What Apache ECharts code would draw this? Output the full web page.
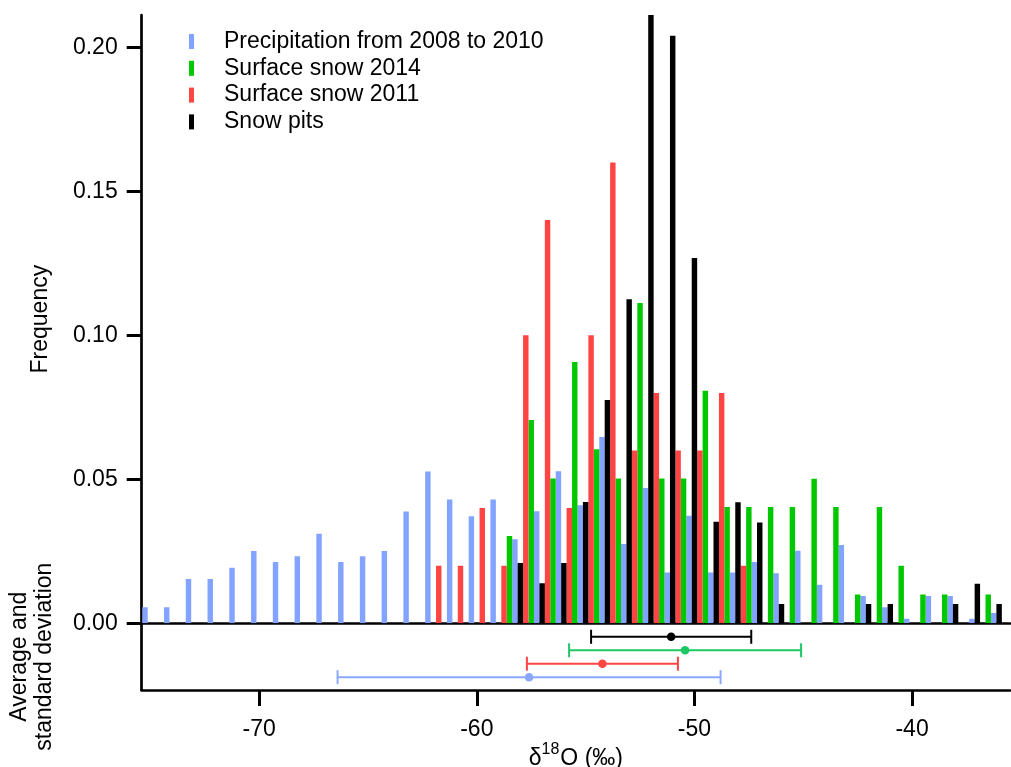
<!DOCTYPE html>
<html>
<head>
<meta charset="utf-8">
<script src="https://cdn.jsdelivr.net/npm/echarts@6/dist/echarts.min.js"></script>
<style>html,body{margin:0;padding:0;background:#fff}#c{width:1011px;height:767px}</style>
</head>
<body>
<div id="c"></div>
<script>
// ---- data ----
const binCenters = [-75,-74,-73,-72,-71,-70,-69,-68,-67,-66,-65,-64,-63,-62,-61,-60,-59,-58,-57,-56,
                    -55,-54,-53,-52,-51,-50,-49,-48,-47,-46,-45,-44,-43,-42,-41,-40,-39,-38,-37,-36];
const precip   = [0.0056,0.0056,0.0154,0.0154,0.0193,0.0251,0.0213,0.0233,0.0311,0.0213,
                  0.0233,0.0251,0.0388,0.0527,0.0430,0.0372,0.0430,0.0292,0.0389,0.0528,
                  0.0410,0.0647,0.0275,0.0470,0.0176,0.0373,0.0176,0.0176,0.0213,0.0174,
                  0.0252,0.0134,0.0272,0.0095,0.0056,0.0016,0.0095,0.0095,0.0016,0.0036];
const snow2014 = [0,0,0,0,0,0,0,0,0,0,
                  0,0,0,0,0,0,0.0303,0.0706,0.0503,0.0907,
                  0.0604,0.0503,0.1112,0.0503,0.0503,0.0807,0.0404,0.0404,0.0404,0.0404,
                  0.0502,0.0404,0.0100,0.0404,0.0200,0.0100,0.0100,0,0.0100,0];
const snow2011 = [0,0,0,0,0,0,0,0,0,0,
                  0,0,0,0.02,0.02,0.04,0.02,0.10,0.14,0.04,
                  0.10,0.16,0.06,0.08,0.06,0.06,0.08,0.02,0,0,
                  0,0,0,0,0,0,0,0,0,0];
const snowPits = [0,0,0,0,0,0,0,0,0,0,
                  0,0,0,0,0,0,0,0.0209,0.0139,0.0209,
                  0.0421,0.0775,0.1125,0.218,0.204,0.1268,0.0353,0.042,0.035,0.0067,
                  0,0,0,0.0067,0.0067,0,0,0.0067,0.0137,0.0067];
const seriesNames = ['Precipitation from 2008 to 2010','Surface snow 2014','Surface snow 2011','Snow pits'];
const barColors   = ['#82A3FF','#00C800','#FF4444','#000000'];
const errColors   = ['#8AA8FF','#1DC864','#FF4444','#000000'];
const avgMean = [-57.60, -50.43, -54.23, -51.07];
const avgSD   = [8.80, 5.33, 3.47, 3.68];
const avgRow  = [4, 2, 3, 1];
const yTicks = [0, 0.05, 0.10, 0.15, 0.20];
const xTicks = [-70, -60, -50, -40];

// ---- chart ----
const FONT = "'Liberation Sans', Arial, Helvetica, sans-serif";
const chart = echarts.init(document.getElementById('c'), null, {renderer: 'canvas'});
const barSlot = [0, 3, 2, 1]; // position of each series inside a bin
const values = [precip, snow2014, snow2011, snowPits];

function barSeries(i) {
  const color = barColors[i];
  const slot = barSlot[i];
  return {
    name: seriesNames[i],
    type: 'custom',
    xAxisIndex: 0, yAxisIndex: 0,
    clip: true,
    itemStyle: {color: color},
    encode: {x: 0, y: 1},
    data: binCenters.map((c, k) => [c, values[i][k]]),
    renderItem: function (params, api) {
      const c = api.value(0), v = api.value(1);
      if (!v) return null;
      const x0 = c - 0.375 + slot * 0.25, x1 = x0 + 0.25;
      const p0 = api.coord([x0, v]);
      const p1 = api.coord([x1, 0]);
      const rect = echarts.graphic.clipRectByRect(
        {x: p0[0], y: p0[1], width: p1[0] - p0[0], height: p1[1] - p0[1]},
        params.coordSys);
      if (!rect) return null;
      return {type: 'rect', shape: rect, style: {fill: color}};
    }
  };
}

const errSeries = {
  name: 'avg',
  type: 'custom',
  xAxisIndex: 1, yAxisIndex: 1,
  data: avgMean.map((m, i) => [m, avgSD[i], avgRow[i], i]),
  encode: {x: 0, y: 2},
  renderItem: function (params, api) {
    const m = api.value(0), s = api.value(1), r = api.value(2), ci = api.value(3);
    const col = errColors[ci];
    const pl = api.coord([m - s, r]), pr = api.coord([m + s, r]), pm = api.coord([m, r]);
    const ls = {stroke: col, lineWidth: 2};
    return {
      type: 'group',
      children: [
        {type: 'line', shape: {x1: pl[0], y1: pl[1], x2: pr[0], y2: pr[1]}, style: ls},
        {type: 'line', shape: {x1: pl[0], y1: pl[1] - 7, x2: pl[0], y2: pl[1] + 7}, style: ls},
        {type: 'line', shape: {x1: pr[0], y1: pr[1] - 7, x2: pr[0], y2: pr[1] + 7}, style: ls},
        {type: 'circle', shape: {cx: pm[0], cy: pm[1], r: 4.3}, style: {fill: col}}
      ]
    };
  }
};

const axisLine = {show: true, onZero: false, lineStyle: {color: '#000', width: 2.7}};

chart.setOption({
  animation: false,
  backgroundColor: '#fff',
  textStyle: {fontFamily: FONT},
  legend: {
    data: seriesNames,
    orient: 'vertical',
    left: 189, top: 29, padding: 0,
    itemWidth: 5, itemHeight: 15, itemGap: 1.8,
    icon: 'rect',
    textStyle: {fontFamily: FONT, fontSize: 23, color: '#000', lineHeight: 25, padding: [0, 0, 0, 25]}
  },
  grid: [
    {left: 141.7, right: 1, top: 15, height: 608.3, containLabel: false, outerBoundsMode: 'none'},
    {left: 141.7, right: 1, top: 623.3, height: 66.7, containLabel: false, outerBoundsMode: 'none'}
  ],
  xAxis: [
    {type: 'value', gridIndex: 0, min: -75.4, max: -35.5, position: 'bottom',
     axisLine: axisLine, axisTick: {show: false}, axisLabel: {show: false}, splitLine: {show: false}},
    {type: 'value', gridIndex: 1, min: -75.4, max: -35.5, position: 'bottom',
     axisLine: axisLine,
     axisTick: {show: true, length: 16, lineStyle: {color: '#000', width: 3}, customValues: xTicks},
     axisLabel: {show: true, customValues: xTicks, margin: 28, fontSize: 23, color: '#000', fontFamily: FONT},
     splitLine: {show: false},
     name: '{a|δ}{s|18}{a|O (‰)}',
     nameLocation: 'middle', nameGap: 44,
     nameTextStyle: {rich: {
       a: {fontSize: 23, fontFamily: FONT, color: '#000'},
       s: {fontSize: 16, fontFamily: FONT, color: '#000', verticalAlign: 'top', padding: [0, 1, 18, 0]}
     }}}
  ],
  yAxis: [
    {type: 'value', gridIndex: 0, min: 0, max: 0.2112,
     axisLine: axisLine,
     axisTick: {show: true, length: 15, lineStyle: {color: '#000', width: 3}, customValues: yTicks},
     axisLabel: {show: true, customValues: yTicks, margin: 24, fontSize: 23, color: '#000', fontFamily: FONT,
                 formatter: v => v.toFixed(2)},
     splitLine: {show: false},
     name: 'Frequency', nameLocation: 'middle', nameGap: 90, nameRotate: 90,
     nameTextStyle: {fontSize: 23, color: '#000', fontFamily: FONT}},
    {type: 'value', gridIndex: 1, min: 0, max: 4.95, inverse: true,
     axisLine: axisLine, axisTick: {show: false}, axisLabel: {show: false}, splitLine: {show: false},
     name: 'Average and\nstandard deviation', nameLocation: 'middle', nameGap: 85, nameRotate: 90,
     nameTextStyle: {fontSize: 23, color: '#000', fontFamily: FONT, lineHeight: 25}}
  ],
  series: [barSeries(0), barSeries(1), barSeries(2), barSeries(3), errSeries]
});
</script>
</body>
</html>
